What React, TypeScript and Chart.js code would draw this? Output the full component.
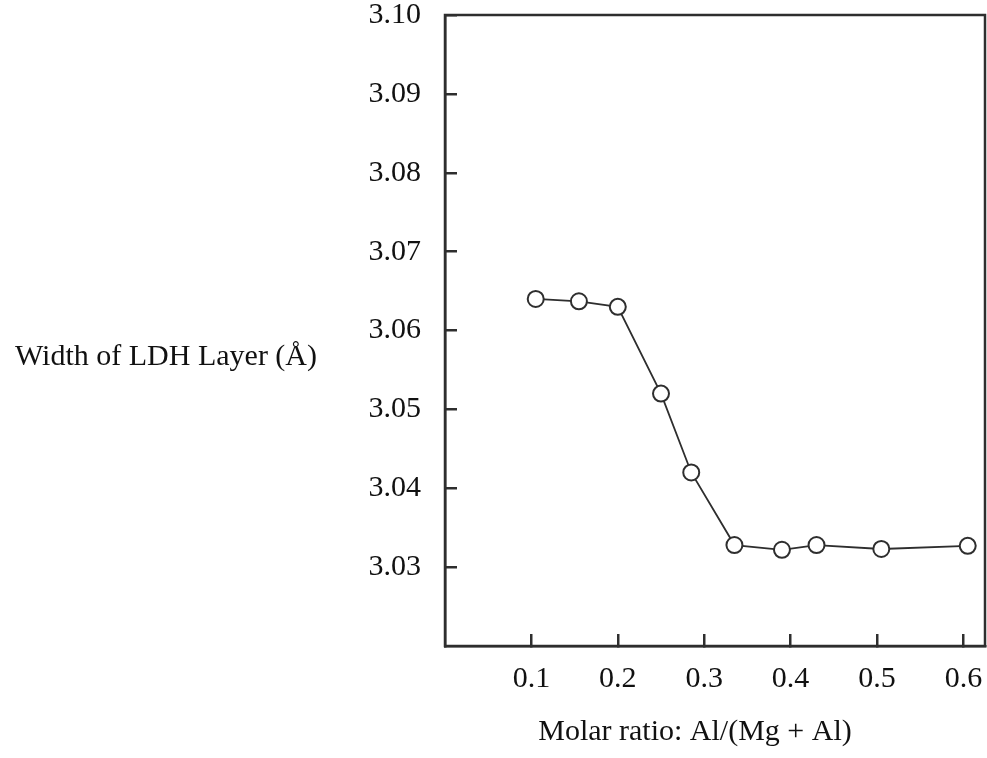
import React, { useEffect, useRef } from "react";
import { Chart, registerables } from "chart.js";

Chart.register(...registerables);

const molarRatio = [0.105, 0.155, 0.2, 0.25, 0.285, 0.335, 0.39, 0.43, 0.505, 0.605];
const layerWidth = [3.064, 3.0637, 3.063, 3.052, 3.042, 3.0328, 3.0322, 3.0328, 3.0323, 3.0327];
const xTickValues = [0.1, 0.2, 0.3, 0.4, 0.5, 0.6];
const yTickValues = [3.03, 3.04, 3.05, 3.06, 3.07, 3.08, 3.09, 3.1];
const xTitle = "Molar ratio: Al/(Mg + Al)";
const yTitle = "Width of LDH Layer (Å)";

const FONT = "'Liberation Serif', 'Times New Roman', serif";
const INK = "#2e2e2e";

const framePlugin = {
  id: "frameAndTitles",
  afterDraw(chart: any) {
    const { ctx, chartArea } = chart;
    ctx.save();
    ctx.strokeStyle = INK;
    ctx.lineWidth = 2.5;
    ctx.strokeRect(chartArea.left, chartArea.top, chartArea.right - chartArea.left, chartArea.bottom - chartArea.top);
    ctx.fillStyle = "#111";
    ctx.font = `30px ${FONT}`;
    ctx.textBaseline = "middle";
    ctx.textAlign = "center";
    ctx.fillText(yTitle, 166, 357);
    ctx.fillText(xTitle, 695, 732);
    ctx.restore();
  },
};

const zeroPadding = (s: any) => {
  s.paddingTop = 0;
  s.paddingBottom = 0;
  s.paddingLeft = 0;
  s.paddingRight = 0;
};

export default function App() {
  const ref = useRef<HTMLCanvasElement | null>(null);
  useEffect(() => {
    if (!ref.current) return;
    const chart = new Chart(ref.current, {
      type: "scatter",
      data: {
        datasets: [
          {
            data: molarRatio.map((x, i) => ({ x, y: layerWidth[i] })),
            showLine: true,
            borderColor: INK,
            borderWidth: 1.8,
            pointRadius: 8,
            pointHoverRadius: 8,
            pointBackgroundColor: "#ffffff",
            pointBorderColor: INK,
            pointBorderWidth: 2,
          },
        ],
      },
      options: {
        animation: false,
        responsive: true,
        maintainAspectRatio: false,
        layout: { autoPadding: false, padding: { top: 15, right: 2, left: 0, bottom: 0 } },
        plugins: { legend: { display: false }, tooltip: { enabled: false } },
        scales: {
          x: {
            type: "linear",
            min: 0,
            max: 0.625,
            afterBuildTicks: (s: any) => {
              s.ticks = xTickValues.map((v) => ({ value: v }));
            },
            afterFit: (s: any) => {
              s.height = 112;
              zeroPadding(s);
            },
            ticks: {
              color: "#111",
              font: { family: FONT, size: 30 },
              padding: 27,
              maxRotation: 0,
              callback: (v: any) => Number(v).toFixed(1),
            },
            grid: { drawOnChartArea: false, tickLength: -12, color: INK, lineWidth: 2.5 },
            border: { display: true, color: INK, width: 2.5 },
          },
          y: {
            type: "linear",
            min: 3.02,
            max: 3.1,
            afterBuildTicks: (s: any) => {
              s.ticks = yTickValues.map((v) => ({ value: v }));
            },
            afterFit: (s: any) => {
              s.width = 445;
              zeroPadding(s);
            },
            ticks: {
              color: "#111",
              font: { family: FONT, size: 30 },
              padding: 36,
              callback: (v: any) => Number(v).toFixed(2),
            },
            grid: { drawOnChartArea: false, tickLength: -12, color: INK, lineWidth: 2.5 },
            border: { display: true, color: INK, width: 2.5 },
          },
        },
      },
      plugins: [framePlugin],
    });
    return () => chart.destroy();
  }, []);
  return (
    <div style={{ position: "absolute", left: 0, top: 0, width: 987, height: 758, background: "#fff" }}>
      <canvas ref={ref} />
    </div>
  );
}
